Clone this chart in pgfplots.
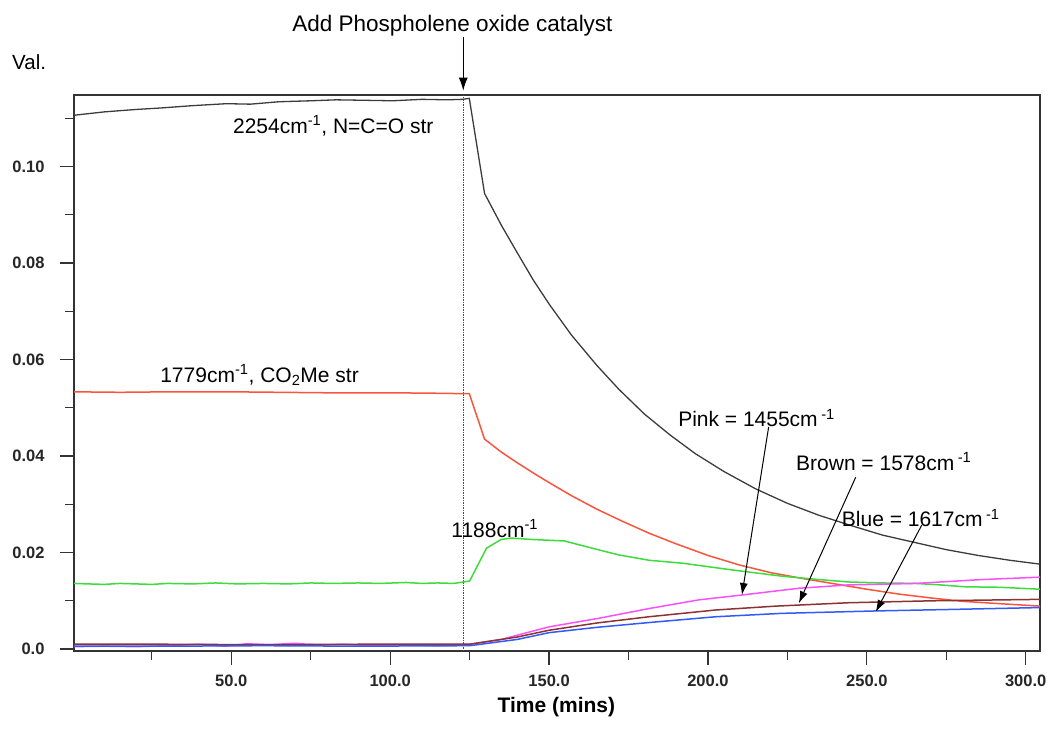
\documentclass[border=0pt]{standalone}
\usepackage{fontspec}
\setmainfont{Liberation Sans}
\usepackage{pgfplots}
\pgfplotsset{compat=1.18}
\usetikzlibrary{arrows.meta}
\definecolor{cblack}{RGB}{60,60,60}
\definecolor{cred}{RGB}{250,85,60}
\definecolor{cgreen}{RGB}{60,220,60}
\definecolor{cpink}{RGB}{250,80,250}
\definecolor{cbrown}{RGB}{140,50,50}
\definecolor{cblue}{RGB}{50,90,250}
\begin{document}
\begin{tikzpicture}
\useasboundingbox (0,0) rectangle (1051pt,742pt);
\begin{axis}[
  at={(74pt,91pt)}, anchor=south west,
  scale only axis, width=966pt, height=556pt,
  xmin=0.5, xmax=304.5, ymin=-0.0004, ymax=0.1148,
  clip=false,
  axis line style={line width=1.3pt, color=black!80},
  tick align=outside, xtick pos=bottom, ytick pos=left,
  major tick length=14pt, minor tick length=9pt,
  tick style={line width=1.2pt, color=black!80},
  xtick={50,100,150,200,250,300},
  xticklabels={50.0,100.0,150.0,200.0,250.0,300.0},
  minor xtick={25,75,125,175,225,275},
  ytick={0,0.02,0.04,0.06,0.08,0.10},
  yticklabels={0.0,0.02,0.04,0.06,0.08,0.10},
  minor ytick={0.01,0.03,0.05,0.07,0.09,0.11},
  scaled y ticks=false,
  ticklabel style={font=\bfseries\fontsize{16.5}{16.5}\selectfont, color=black!85},
  xticklabel style={yshift=-6pt},
  yticklabel style={xshift=-12pt},
  every axis plot/.append style={line width=1.5pt, no marks},
]
% dotted line at catalyst addition
\addplot[densely dotted, line width=0.8pt, black!70] coordinates {(123,-0.0004) (123,0.1148)};
% black 2254
\addplot[cblack, line width=1.3pt] coordinates {
(0.5,0.1106) (10,0.1113) (20,0.1118) (27.6,0.1121) (38,0.1126) (48.5,0.1130) (56,0.1129) (65,0.1134) (75,0.1136) (83,0.1138) (92,0.1137) (100.8,0.1136) (110,0.1139) (118,0.1138) (122.7,0.1139) (124.9,0.1141)
(129.7,0.0944) (135,0.0878) (140,0.0821) (145,0.0765) (150,0.0715) (157,0.0651) (165,0.0588) (172,0.0538) (180,0.0487) (188,0.0444) (196,0.0405) (205,0.0368) (215,0.0332) (225,0.0302) (235,0.0277) (245,0.0256) (255,0.0236) (265,0.0221) (275,0.0206) (285,0.0194) (295,0.0184) (304.5,0.0176)};
% red 1779
\addplot[cred] coordinates {
(0.5,0.0533) (15,0.0532) (30,0.0533) (50,0.0533) (65,0.0532) (80,0.0531) (100,0.0531) (115,0.0530) (124.9,0.0529)
(129.7,0.0435) (135,0.0408) (140,0.0386) (145,0.0365) (150,0.0345) (157,0.0318) (165,0.0290) (173,0.0265) (181.5,0.0240) (190,0.0218) (200,0.0194) (210,0.0174) (220,0.0158) (230,0.0146) (240,0.0135) (250,0.0124) (260,0.0114) (270,0.0106) (280,0.0099) (292,0.0094) (304.5,0.0089)};
% green 1188
\addplot[cgreen] coordinates {
(0.5,0.0136) (5,0.0135) (10,0.0134) (15,0.0136) (20,0.0135) (25,0.0134) (30,0.0136) (38,0.0135) (45,0.0137) (52,0.0135) (60,0.0136) (68,0.0135) (75,0.0137) (82,0.0136) (90,0.0137) (97,0.0136) (105,0.0138) (110,0.0136) (115,0.0137) (120,0.0136) (125,0.0141)
(130.3,0.0209) (134.9,0.0227) (138,0.0230) (144.8,0.0227) (154.8,0.0224) (164.8,0.0207) (172,0.0195) (181.5,0.0184) (191.9,0.0178) (207.6,0.0164) (223.3,0.0151) (235,0.0144) (244.3,0.0139) (255,0.0137) (265.4,0.0136) (273,0.0133) (281,0.0129) (292,0.0128) (304.5,0.0124)};
% pink 1455
\addplot[cpink] coordinates {
(0.5,0.0005) (10,0.0006) (20,0.0005) (30,0.0007) (40,0.0010) (48,0.0006) (55,0.0011) (62,0.0009) (70,0.0012) (78,0.0008) (85,0.0010) (95,0.0007) (105,0.0009) (115,0.0007) (125,0.0010)
(135,0.0020) (143,0.0034) (150,0.0046) (165.8,0.0064) (181.5,0.0084) (197.2,0.0102) (210.7,0.0112) (228.6,0.0126) (244.3,0.0133) (265.4,0.0136) (286.1,0.0144) (304.5,0.0149)};
% brown 1578
\addplot[cbrown] coordinates {
(0.5,0.0010) (30,0.0010) (60,0.0009) (90,0.0010) (125,0.0010)
(140,0.0025) (150,0.0039) (165,0.0054) (181.5,0.0067) (202.5,0.0081) (221.4,0.0089) (244.3,0.0096) (270.4,0.0100) (304.5,0.0103)};
% blue 1617
\addplot[cblue] coordinates {
(0.5,0.0006) (30,0.0006) (60,0.0007) (90,0.0006) (125,0.0007)
(140,0.0020) (150,0.0034) (165,0.0045) (181.5,0.0055) (202.5,0.0067) (223.3,0.0074) (252.8,0.0079) (275.7,0.0082) (304.5,0.0086)};
% annotations
\node[anchor=base, font=\fontsize{22.5}{22.5}\selectfont] at (axis cs:119.6,0.1279) {Add Phospholene oxide catalyst};
\draw[-{Latex[length=13pt,width=9pt]}, line width=1pt] (axis cs:123,0.1268) -- (axis cs:123,0.1157);
\node[anchor=base west, inner sep=0pt, font=\fontsize{20.5}{20.5}\selectfont] at (axis cs:-19,0.1200) {Val.};
\node[anchor=base west, inner sep=0pt, font=\fontsize{21}{21}\selectfont] at (axis cs:50.5,0.1069) {2254cm\textsuperscript{-1}, N=C=O str};
\node[anchor=base west, inner sep=0pt, font=\fontsize{21}{21}\selectfont] at (axis cs:27.6,0.0553) {1779cm\textsuperscript{-1}, CO\textsubscript{2}Me str};
\node[anchor=base west, inner sep=0pt, font=\fontsize{21}{21}\selectfont] at (axis cs:119.2,0.02315) {1188cm\textsuperscript{-1}};
\node[anchor=base west, inner sep=0pt, font=\fontsize{21}{21}\selectfont] at (axis cs:190.6,0.0461) {Pink = 1455cm\,\textsuperscript{-1}};
\node[anchor=base west, inner sep=0pt, font=\fontsize{21}{21}\selectfont] at (axis cs:227.7,0.0370) {Brown = 1578cm\,\textsuperscript{-1}};
\node[anchor=base west, inner sep=0pt, font=\fontsize{21}{21}\selectfont] at (axis cs:242.1,0.0253) {Blue = 1617cm\,\textsuperscript{-1}};
\draw[-{Latex[length=12pt,width=8pt]}, line width=1pt] (axis cs:219.1,0.0460) -- (axis cs:210.7,0.0112);
\draw[-{Latex[length=12pt,width=8pt]}, line width=1pt] (axis cs:246.5,0.0356) -- (axis cs:228.6,0.0095);
\draw[-{Latex[length=12pt,width=8pt]}, line width=1pt] (axis cs:267.3,0.0257) -- (axis cs:252.8,0.0077);
\node[anchor=base, font=\bfseries\fontsize{21}{21}\selectfont] at (axis cs:152.3,-0.0131) {Time (mins)};
\end{axis}
\end{tikzpicture}
\end{document}
